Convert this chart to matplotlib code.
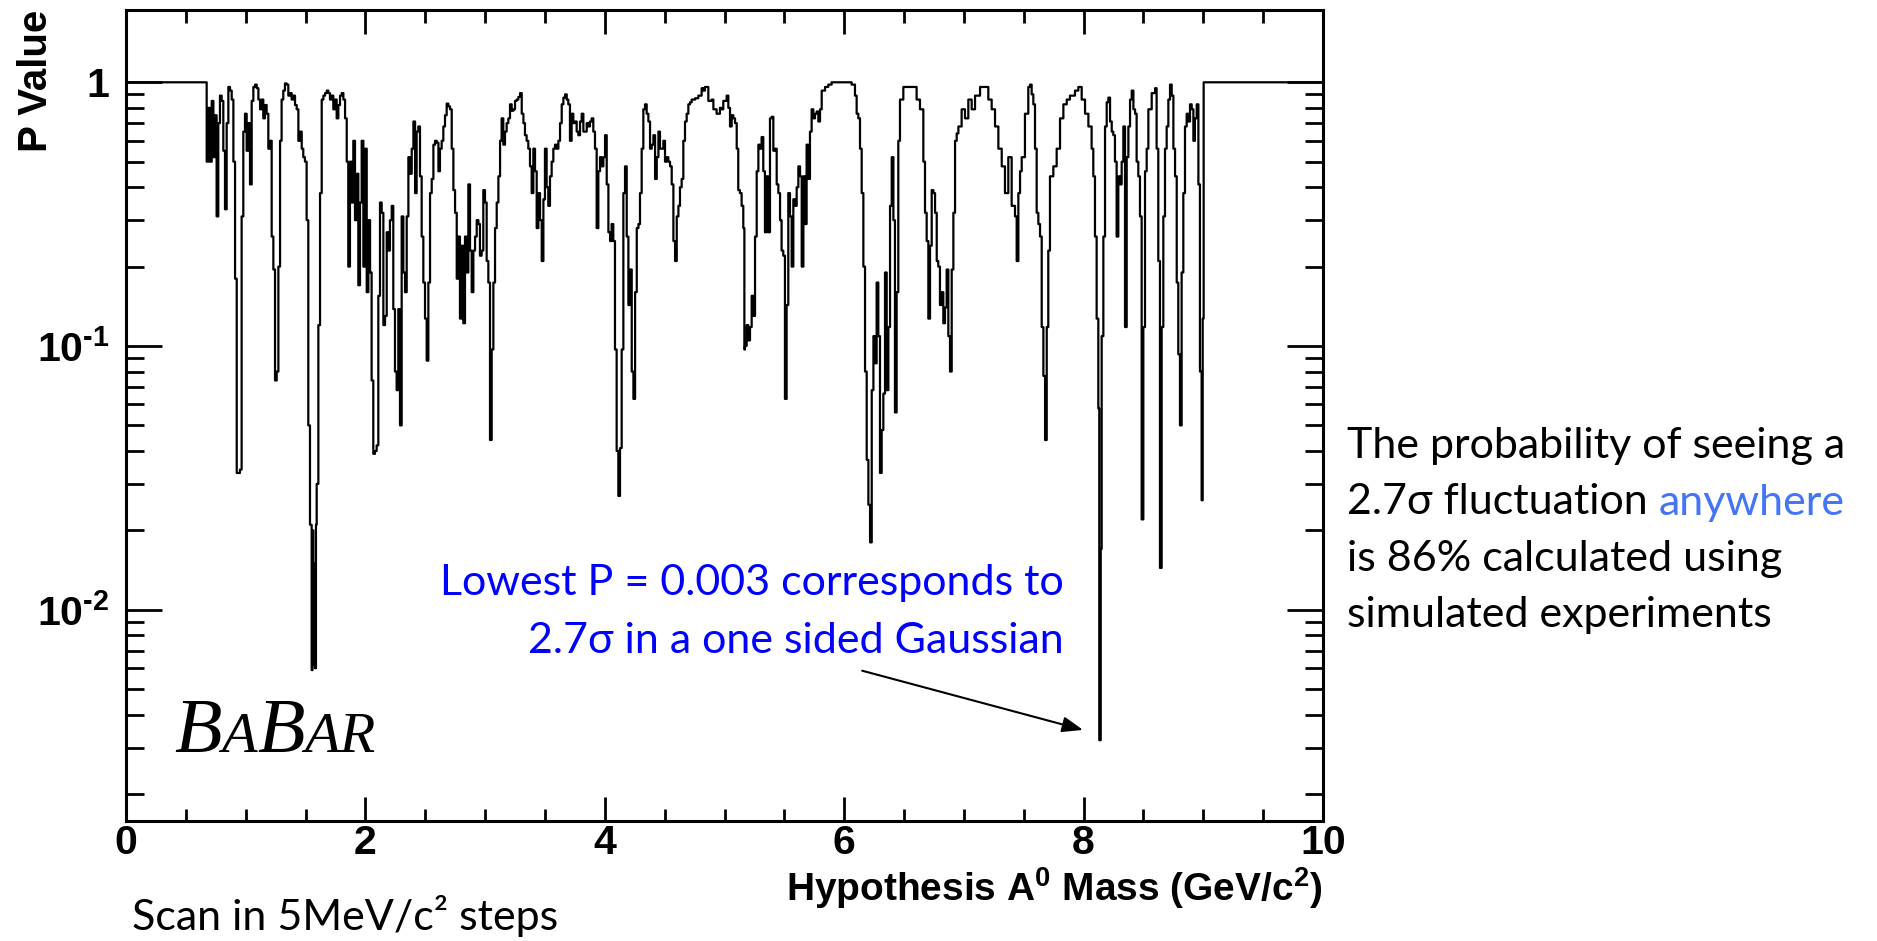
import matplotlib
matplotlib.use("Agg")
import matplotlib.pyplot as plt
from matplotlib.ticker import LogLocator, NullFormatter
from matplotlib.offsetbox import TextArea, HPacker, AnnotationBbox

# P value scan vs hypothesis mass (GeV/c^2)
mass = [
    0.000, 0.674, 0.688, 0.702, 0.716, 0.730, 0.743, 0.757, 0.771, 0.785,
    0.799, 0.813, 0.827, 0.841, 0.855, 0.869, 0.883, 0.897, 0.911, 0.925,
    0.938, 0.952, 0.966, 0.980, 0.994, 1.008, 1.022, 1.036, 1.050, 1.064,
    1.078, 1.092, 1.106, 1.120, 1.133, 1.147, 1.161, 1.175, 1.189, 1.203,
    1.217, 1.231, 1.245, 1.259, 1.273, 1.287, 1.300, 1.314, 1.328, 1.342,
    1.356, 1.370, 1.384, 1.398, 1.412, 1.426, 1.440, 1.454, 1.468, 1.481,
    1.495, 1.509, 1.523, 1.537, 1.551, 1.558, 1.565, 1.572, 1.579, 1.587,
    1.593, 1.607, 1.621, 1.635, 1.649, 1.663, 1.677, 1.690, 1.704, 1.718,
    1.732, 1.746, 1.760, 1.774, 1.788, 1.802, 1.816, 1.830, 1.844, 1.857,
    1.871, 1.885, 1.899, 1.913, 1.927, 1.941, 1.955, 1.969, 1.983, 1.997,
    2.011, 2.025, 2.039, 2.052, 2.066, 2.080, 2.094, 2.108, 2.122, 2.136,
    2.150, 2.164, 2.178, 2.192, 2.205, 2.220, 2.233, 2.247, 2.261, 2.275,
    2.289, 2.303, 2.317, 2.331, 2.345, 2.359, 2.373, 2.387, 2.401, 2.415,
    2.428, 2.442, 2.456, 2.470, 2.484, 2.498, 2.512, 2.526, 2.540, 2.554,
    2.568, 2.582, 2.596, 2.610, 2.623, 2.637, 2.651, 2.665, 2.679, 2.693,
    2.707, 2.721, 2.735, 2.749, 2.763, 2.777, 2.790, 2.804, 2.818, 2.832,
    2.846, 2.860, 2.874, 2.888, 2.902, 2.916, 2.930, 2.944, 2.957, 2.971,
    2.985, 2.999, 3.013, 3.027, 3.041, 3.055, 3.069, 3.083, 3.097, 3.111,
    3.125, 3.138, 3.152, 3.166, 3.180, 3.194, 3.208, 3.222, 3.236, 3.250,
    3.264, 3.278, 3.292, 3.306, 3.320, 3.333, 3.347, 3.361, 3.375, 3.389,
    3.403, 3.417, 3.431, 3.445, 3.459, 3.473, 3.487, 3.500, 3.514, 3.528,
    3.542, 3.556, 3.570, 3.584, 3.598, 3.612, 3.626, 3.640, 3.654, 3.668,
    3.682, 3.695, 3.709, 3.723, 3.737, 3.751, 3.765, 3.779, 3.793, 3.807,
    3.821, 3.835, 3.849, 3.862, 3.876, 3.890, 3.904, 3.918, 3.932, 3.946,
    3.960, 3.974, 3.988, 4.002, 4.016, 4.030, 4.044, 4.057, 4.071, 4.085,
    4.099, 4.113, 4.127, 4.141, 4.155, 4.169, 4.183, 4.197, 4.211, 4.225,
    4.239, 4.253, 4.267, 4.281, 4.294, 4.308, 4.322, 4.336, 4.350, 4.364,
    4.378, 4.392, 4.406, 4.420, 4.434, 4.448, 4.461, 4.475, 4.489, 4.503,
    4.517, 4.531, 4.545, 4.559, 4.573, 4.587, 4.601, 4.615, 4.628, 4.642,
    4.656, 4.670, 4.684, 4.698, 4.712, 4.726, 4.754, 4.781, 4.809, 4.823,
    4.837, 4.865, 4.893, 4.907, 4.934, 4.962, 4.976, 4.990, 5.018, 5.032,
    5.046, 5.060, 5.074, 5.088, 5.102, 5.115, 5.129, 5.143, 5.157, 5.166,
    5.171, 5.185, 5.199, 5.213, 5.227, 5.241, 5.255, 5.269, 5.283, 5.296,
    5.310, 5.324, 5.338, 5.352, 5.366, 5.380, 5.394, 5.408, 5.422, 5.436,
    5.450, 5.464, 5.477, 5.491, 5.505, 5.519, 5.533, 5.547, 5.561, 5.575,
    5.589, 5.603, 5.617, 5.631, 5.645, 5.659, 5.672, 5.686, 5.700, 5.714,
    5.728, 5.742, 5.756, 5.770, 5.784, 5.798, 5.812, 5.840, 5.867, 5.895,
    5.951, 6.007, 6.062, 6.090, 6.104, 6.118, 6.132, 6.146, 6.160, 6.174,
    6.188, 6.202, 6.216, 6.230, 6.244, 6.257, 6.271, 6.285, 6.299, 6.313,
    6.327, 6.341, 6.355, 6.369, 6.383, 6.397, 6.411, 6.424, 6.438, 6.452,
    6.466, 6.494, 6.536, 6.578, 6.605, 6.633, 6.661, 6.675, 6.689, 6.703,
    6.717, 6.731, 6.745, 6.759, 6.773, 6.786, 6.800, 6.814, 6.828, 6.842,
    6.856, 6.870, 6.884, 6.898, 6.912, 6.926, 6.940, 6.954, 6.981, 7.009,
    7.037, 7.065, 7.093, 7.135, 7.176, 7.204, 7.232, 7.260, 7.288, 7.316,
    7.343, 7.371, 7.399, 7.427, 7.441, 7.455, 7.469, 7.483, 7.510, 7.538,
    7.552, 7.566, 7.580, 7.594, 7.608, 7.622, 7.636, 7.650, 7.664, 7.678,
    7.692, 7.705, 7.719, 7.747, 7.775, 7.803, 7.831, 7.859, 7.886, 7.928,
    7.956, 7.984, 8.012, 8.040, 8.067, 8.081, 8.095, 8.109, 8.123, 8.131,
    8.143, 8.151, 8.165, 8.179, 8.193, 8.207, 8.221, 8.235, 8.248, 8.262,
    8.276, 8.290, 8.304, 8.318, 8.332, 8.346, 8.360, 8.374, 8.388, 8.402,
    8.416, 8.430, 8.443, 8.457, 8.471, 8.485, 8.499, 8.513, 8.527, 8.541,
    8.569, 8.597, 8.610, 8.624, 8.638, 8.652, 8.666, 8.680, 8.694, 8.708,
    8.722, 8.736, 8.750, 8.764, 8.778, 8.791, 8.805, 8.819, 8.833, 8.847,
    8.861, 8.875, 8.889, 8.903, 8.917, 8.930, 8.945, 8.959, 8.972, 8.986,
    8.995, 9.003, 10.000,
]

p_value = [
    1.0, 0.50, 0.80, 0.50, 0.85, 0.52, 0.75, 0.31, 0.70, 0.89,
    0.85, 0.55, 0.33, 0.70, 0.96, 0.93, 0.86, 0.50, 0.18, 0.033,
    0.033, 0.034, 0.31, 0.65, 0.76, 0.55, 0.70, 0.41, 0.85, 0.96,
    0.98, 0.95, 0.86, 0.79, 0.86, 0.73, 0.82, 0.76, 0.56, 0.60,
    0.26, 0.195, 0.074, 0.08, 0.20, 0.60, 0.86, 0.93, 0.99, 0.98,
    0.89, 0.91, 0.86, 0.89, 0.82, 0.79, 0.60, 0.65, 0.56, 0.52,
    0.50, 0.30, 0.05, 0.021, 0.0059, 0.02, 0.0062, 0.015, 0.006, 0.021,
    0.03, 0.12, 0.38, 0.86, 0.89, 0.91, 0.93, 0.91, 0.86, 0.89,
    0.79, 0.86, 0.73, 0.82, 0.89, 0.91, 0.86, 0.73, 0.50, 0.20,
    0.50, 0.35, 0.60, 0.30, 0.45, 0.17, 0.35, 0.60, 0.20, 0.56,
    0.16, 0.30, 0.19, 0.074, 0.039, 0.040, 0.042, 0.155, 0.35, 0.32,
    0.12, 0.13, 0.27, 0.23, 0.30, 0.34, 0.138, 0.08, 0.068, 0.138,
    0.05, 0.31, 0.19, 0.16, 0.31, 0.52, 0.45, 0.56, 0.71, 0.38,
    0.65, 0.68, 0.44, 0.26, 0.174, 0.127, 0.088, 0.174, 0.38, 0.43,
    0.58, 0.60, 0.59, 0.46, 0.56, 0.60, 0.68, 0.75, 0.83, 0.81,
    0.79, 0.56, 0.39, 0.32, 0.18, 0.26, 0.127, 0.24, 0.122, 0.26,
    0.19, 0.41, 0.23, 0.16, 0.23, 0.26, 0.30, 0.29, 0.22, 0.23,
    0.39, 0.35, 0.21, 0.174, 0.044, 0.097, 0.174, 0.28, 0.35, 0.44,
    0.60, 0.73, 0.58, 0.65, 0.70, 0.73, 0.825, 0.78, 0.79, 0.85,
    0.86, 0.88, 0.91, 0.76, 0.70, 0.63, 0.60, 0.56, 0.48, 0.38,
    0.56, 0.46, 0.28, 0.38, 0.30, 0.21, 0.36, 0.56, 0.40, 0.34,
    0.44, 0.50, 0.56, 0.58, 0.56, 0.60, 0.70, 0.825, 0.875, 0.90,
    0.86, 0.825, 0.60, 0.76, 0.70, 0.71, 0.65, 0.63, 0.71, 0.76,
    0.65, 0.65, 0.70, 0.68, 0.71, 0.73, 0.65, 0.56, 0.28, 0.46,
    0.52, 0.48, 0.52, 0.63, 0.41, 0.27, 0.25, 0.29, 0.25, 0.097,
    0.040, 0.027, 0.041, 0.097, 0.38, 0.48, 0.26, 0.143, 0.195, 0.08,
    0.063, 0.16, 0.28, 0.29, 0.38, 0.56, 0.79, 0.825, 0.76, 0.71,
    0.56, 0.58, 0.63, 0.43, 0.52, 0.65, 0.56, 0.56, 0.60, 0.50,
    0.52, 0.50, 0.48, 0.41, 0.25, 0.21, 0.31, 0.34, 0.40, 0.43,
    0.60, 0.71, 0.76, 0.825, 0.84, 0.86, 0.87, 0.89, 0.95, 0.93,
    0.96, 0.85, 0.86, 0.79, 0.76, 0.80, 0.79, 0.85, 0.89, 0.80,
    0.68, 0.75, 0.73, 0.70, 0.56, 0.39, 0.38, 0.34, 0.28, 0.097,
    0.10, 0.12, 0.105, 0.118, 0.155, 0.13, 0.26, 0.46, 0.58, 0.56,
    0.62, 0.46, 0.27, 0.44, 0.27, 0.73, 0.74, 0.55, 0.56, 0.41,
    0.38, 0.30, 0.23, 0.22, 0.063, 0.143, 0.38, 0.31, 0.20, 0.36,
    0.34, 0.40, 0.48, 0.44, 0.20, 0.44, 0.29, 0.58, 0.43, 0.65,
    0.79, 0.73, 0.76, 0.775, 0.71, 0.79, 0.93, 0.96, 0.98, 1.0,
    1.0, 1.0, 0.98, 0.89, 0.76, 0.73, 0.56, 0.38, 0.20, 0.08,
    0.037, 0.025, 0.018, 0.068, 0.109, 0.086, 0.174, 0.109, 0.033, 0.048,
    0.066, 0.19, 0.068, 0.118, 0.34, 0.52, 0.30, 0.056, 0.16, 0.60,
    0.86, 0.96, 0.96, 0.96, 0.86, 0.79, 0.50, 0.32, 0.25, 0.127,
    0.24, 0.39, 0.38, 0.32, 0.21, 0.20, 0.143, 0.16, 0.122, 0.14,
    0.195, 0.109, 0.08, 0.195, 0.32, 0.60, 0.64, 0.68, 0.79, 0.73,
    0.86, 0.79, 0.89, 0.96, 0.96, 0.86, 0.79, 0.68, 0.56, 0.48,
    0.38, 0.52, 0.34, 0.31, 0.21, 0.38, 0.46, 0.52, 0.76, 0.96,
    0.98, 0.90, 0.825, 0.56, 0.32, 0.29, 0.26, 0.118, 0.077, 0.044,
    0.118, 0.23, 0.44, 0.48, 0.56, 0.73, 0.825, 0.86, 0.89, 0.93,
    0.96, 0.86, 0.76, 0.68, 0.56, 0.44, 0.26, 0.127, 0.058, 0.0032,
    0.017, 0.109, 0.26, 0.68, 0.84, 0.875, 0.71, 0.65, 0.63, 0.50,
    0.26, 0.44, 0.41, 0.50, 0.68, 0.118, 0.52, 0.68, 0.86, 0.93,
    0.79, 0.76, 0.50, 0.44, 0.31, 0.022, 0.118, 0.46, 0.56, 0.79,
    0.91, 0.95, 0.56, 0.21, 0.0144, 0.118, 0.31, 0.56, 0.68, 0.86,
    0.98, 0.89, 0.56, 0.44, 0.174, 0.093, 0.05, 0.19, 0.38, 0.68,
    0.76, 0.71, 0.825, 0.79, 0.60, 0.73, 0.825, 0.41, 0.08, 0.026,
    0.127, 1.0, 1.0,
]

x_ticks = [0, 2, 4, 6, 8, 10]
y_ticks = [0.01, 0.1, 1.0]
y_tick_labels = ["$10^{\\text{-}2}$", "$10^{\\text{-}1}$", "1"]

plt.rcParams["font.family"] = ["Liberation Sans", "DejaVu Sans"]
plt.rcParams["mathtext.fontset"] = "custom"
plt.rcParams["mathtext.rm"] = "Liberation Sans:bold"
plt.rcParams["mathtext.bf"] = "Liberation Sans:bold"
plt.rcParams["mathtext.default"] = "bf"

W, H = 1877, 941
fig = plt.figure(figsize=(W / 100, H / 100), dpi=100)
ax = fig.add_axes([126 / W, 1 - 821 / H, 1197 / W, 811 / H])

ax.plot(mass, p_value, drawstyle="steps-post", color="black", lw=1.6)

ax.set_xlim(0, 10)
ax.set_yscale("log")
ax.set_ylim(0.00158, 1.88)

# ROOT-like frame: ticks inside on all four sides
for s in ax.spines.values():
    s.set_linewidth(2.2)
ax.set_xticks(x_ticks)
ax.set_xticklabels([str(v) for v in x_ticks], fontsize=29.5, fontweight="bold")
ax.set_xticks([v / 2 for v in range(21)], minor=True)
ax.set_yticks(y_ticks)
ax.set_yticklabels(y_tick_labels, fontsize=29.5, fontweight="bold")
ax.yaxis.set_minor_locator(LogLocator(base=10, subs=range(2, 10)))
ax.yaxis.set_minor_formatter(NullFormatter())

ax.tick_params(axis="x", which="major", direction="in", length=17, width=2,
               top=True, pad=2)
ax.tick_params(axis="x", which="minor", direction="in", length=9, width=2, top=True)
ax.tick_params(axis="y", which="major", direction="in", length=26, width=2,
               right=True, pad=12)
ax.tick_params(axis="y", which="minor", direction="in", length=13, width=2, right=True)

ax.set_xlabel("Hypothesis A$^{0}$ Mass (GeV/c$^{2}$)", fontsize=28,
              fontweight="bold", loc="right")
ax.xaxis.set_label_coords(1.0, -0.055)
ax.set_ylabel("P Value", fontsize=29, fontweight="bold", loc="top")
ax.yaxis.set_label_coords(-0.059, 1.0)

# BaBar logo
big = dict(family="Liberation Serif", style="italic", size=56)
small = dict(family="Liberation Serif", style="italic", size=42)
logo = HPacker(children=[TextArea("B", textprops=big), TextArea("A", textprops=small),
                         TextArea("B", textprops=big), TextArea("AR", textprops=small)],
               align="baseline", pad=0, sep=0)
fig.add_artist(AnnotationBbox(logo, (174, H - 769), xycoords="figure pixels",
                              box_alignment=(0, 0), frameon=False, pad=0))

# arrow to the lowest p value
ax.annotate("", xy=(7.995, 0.0035), xytext=(6.15, 0.00587),
            arrowprops=dict(arrowstyle="-|>,head_length=0.45,head_width=0.17",
                            color="black", lw=1.5, mutation_scale=28,
                            shrinkA=0, shrinkB=0))

body = ["Lato", "DejaVu Sans"]
fs = 31
blue = "#0000ff"
fig.text(1064 / W, 1 - 595 / H, "Lowest P = 0.003 corresponds to", ha="right",
         va="baseline", color=blue, fontsize=fs, family=body)
fig.text(1064 / W, 1 - 653 / H, "2.7\u03c3 in a one sided Gaussian", ha="right",
         va="baseline", color=blue, fontsize=fs, family=body)

x_note = 1347 / W
fig.text(x_note, 1 - 458 / H, "The probability of seeing a", va="baseline",
         fontsize=fs, family=body)
t2 = fig.text(x_note, 1 - 514.5 / H, "2.7\u03c3 fluctuation ", va="baseline",
              fontsize=fs, family=body)
ax.annotate("anywhere", xy=(1, 0), xycoords=t2, va="bottom", ha="left",
            fontsize=fs, family=body, color="#4375f5", annotation_clip=False)
fig.text(x_note, 1 - 571 / H, "is 86% calculated using", va="baseline",
         fontsize=fs, family=body)
fig.text(x_note, 1 - 627 / H, "simulated experiments", va="baseline",
         fontsize=fs, family=body)

fig.text(132 / W, 1 - 930 / H, "Scan in 5MeV/c\u00b2 steps", va="baseline",
         fontsize=fs, family=body)

fig.savefig("out.png", dpi=100, facecolor="white")
